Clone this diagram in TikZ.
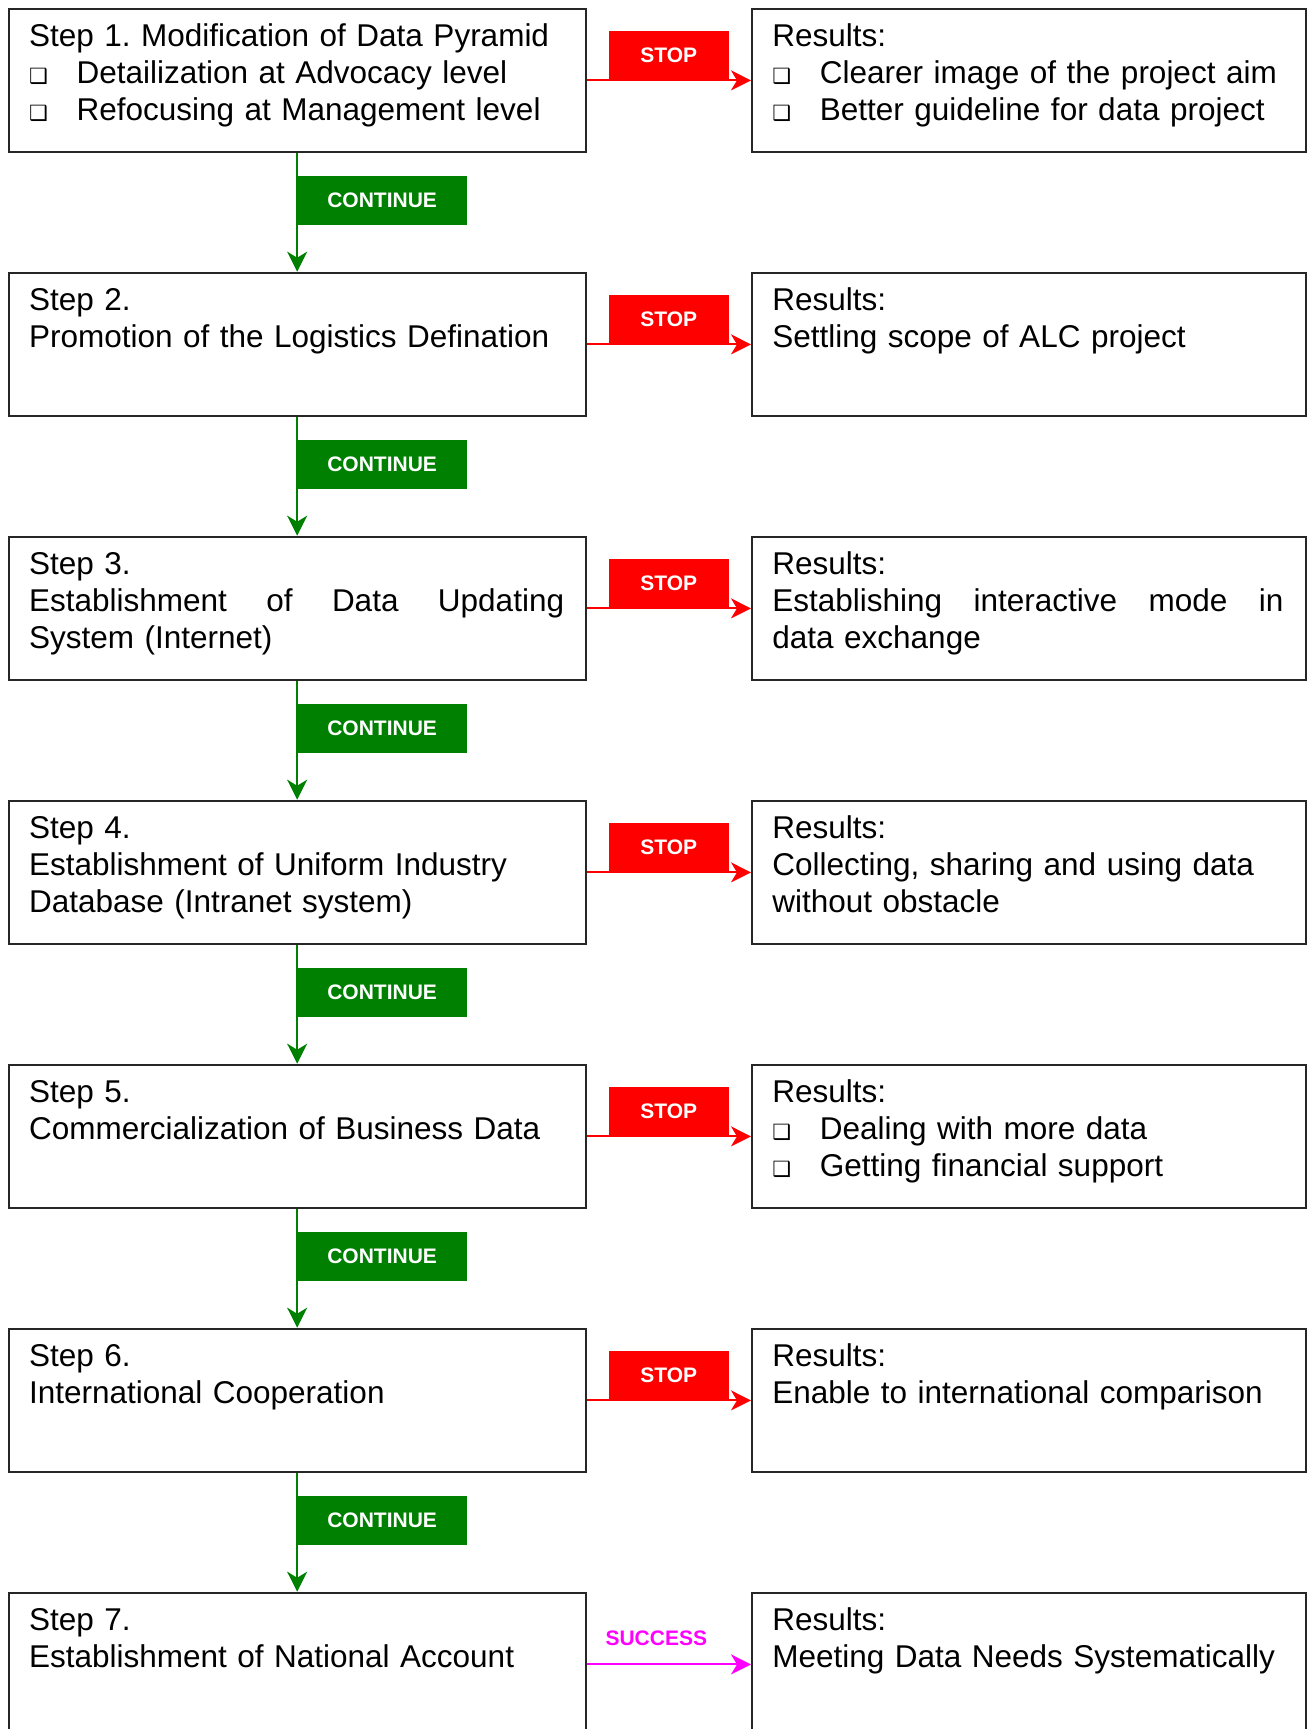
\documentclass[tikz,border=0pt]{standalone}
\usepackage{fontspec}
\setmainfont{Liberation Sans}
\newfontfamily\symfont{DejaVu Sans}
\usetikzlibrary{arrows.meta}
\definecolor{stopred}{RGB}{255,0,0}
\definecolor{contgreen}{RGB}{0,128,0}
\definecolor{succmag}{RGB}{255,0,255}
\newcommand{\bul}{\makebox[23.75pt][l]{\symfont\fontsize{10.5}{10.5}\selectfont ❑}}
\begin{document}
\begin{tikzpicture}[x=0.5pt,y=-0.5pt,
  box/.style={draw=black!85, line width=1pt, minimum height=71.7pt, inner sep=0pt, anchor=north west},
  lbox/.style={box, minimum width=288.45pt},
  rbox/.style={box, minimum width=277pt},
  ltxt/.style={anchor=base west, inner sep=0pt, text width=275pt, align=left, font=\fontsize{15.75}{18.5}\selectfont},
  rtxt/.style={ltxt, text width=262pt},
  contarrow/.style={draw=contgreen, line width=1pt, -{Stealth[length=10pt,width=10pt,inset=3pt]}},
  stoparrow/.style={draw=stopred, line width=1pt, -{Stealth[length=10pt,width=10pt,inset=3pt]}},
  succarrow/.style={draw=succmag, line width=1pt, -{Stealth[length=10pt,width=10pt,inset=3pt]}},
  lbl/.style={inner sep=0pt, text=white, font=\bfseries\fontsize{10.5}{12}\selectfont},
  stoplbl/.style={lbl, fill=stopred, minimum width=60.2pt, minimum height=24.15pt},
  contlbl/.style={lbl, fill=contgreen, minimum width=84.6pt, minimum height=24.5pt},
  succlbl/.style={inner sep=0pt, text=succmag, font=\bfseries\fontsize{10.5}{12}\selectfont}
]
\fill[white] (0,0) rectangle (1307,1729);
\useasboundingbox (0,0) rectangle (1307,1729);
\clip (0,0) rectangle (1307,1729);

% boxes
\node[lbox] (s1) at (7.7,7.7) {};
\node[rbox] (r1) at (751,7.7) {};
\node[lbox] (s2) at (7.7,271.7) {};
\node[rbox] (r2) at (751,271.7) {};
\node[lbox] (s3) at (7.7,535.7) {};
\node[rbox] (r3) at (751,535.7) {};
\node[lbox] (s4) at (7.7,799.7) {};
\node[rbox] (r4) at (751,799.7) {};
\node[lbox] (s5) at (7.7,1063.7) {};
\node[rbox] (r5) at (751,1063.7) {};
\node[lbox] (s6) at (7.7,1327.7) {};
\node[rbox] (r6) at (751,1327.7) {};
\node[lbox] (s7) at (7.7,1591.7) {};
\node[rbox] (r7) at (751,1591.7) {};

% texts
\node[ltxt] (s1t) at (28.7,46.7) {Step 1.\ Modification of Data Pyramid\\\bul Detailization at Advocacy level\\\bul Refocusing at Management level};
\node[rtxt] (r1t) at (772,46.7) {Results:\\\bul Clearer image of the project aim\\\bul Better guideline for data project};
\node[ltxt] (s2t) at (28.7,310.7) {Step 2.\\Promotion of the Logistics Defination};
\node[rtxt] (r2t) at (772,310.7) {Results:\\Settling scope of ALC project};
\node[ltxt] (s3t) at (28.7,574.7) {Step 3.\\\makebox[267.5pt]{Establishment\hfill of\hfill Data\hfill Updating}\\System (Internet)};
\node[rtxt] (r3t) at (772,574.7) {Results:\\\makebox[255.5pt]{Establishing\hfill interactive\hfill mode\hfill in}\\data exchange};
\node[ltxt] (s4t) at (28.7,838.7) {Step 4.\\Establishment of Uniform Industry\\Database (Intranet system)};
\node[rtxt] (r4t) at (772,838.7) {Results:\\Collecting, sharing and using data\\without obstacle};
\node[ltxt] (s5t) at (28.7,1102.7) {Step 5.\\Commercialization of Business Data};
\node[rtxt] (r5t) at (772,1102.7) {Results:\\\bul Dealing with more data\\\bul Getting financial support};
\node[ltxt] (s6t) at (28.7,1366.7) {Step 6.\\International Cooperation};
\node[rtxt] (r6t) at (772,1366.7) {Results:\\Enable to international comparison};
\node[ltxt] (s7t) at (28.7,1630.7) {Step 7.\\Establishment of National Account};
\node[rtxt] (r7t) at (772,1630.7) {Results:\\Meeting Data Needs Systematically};

% continue arrows
\foreach \a/\b/\n in {s1/s2/c1, s2/s3/c2, s3/s4/c3, s4/s5/c4, s5/s6/c5, s6/s7/c6}{
  \draw[contarrow] (\a.south) -- (\b.north);
  \node[contlbl, anchor=north west] (\n) at ([yshift=-11pt]\a.south) {CONTINUE};
}
% stop arrows
\foreach \a/\b/\n in {s1/r1/st1, s2/r2/st2, s3/r3/st3, s4/r4/st4, s5/r5/st5, s6/r6/st6}{
  \draw[stoparrow] (\a.east) -- (\b.west) node[midway, anchor=south, stoplbl] (\n) {STOP};
}
% success arrow
\draw[succarrow] (s7.east) -- (r7.west) node[midway, anchor=base, xshift=-6.25pt, yshift=9.35pt, succlbl] (sc) {SUCCESS};
\end{tikzpicture}
\end{document}
